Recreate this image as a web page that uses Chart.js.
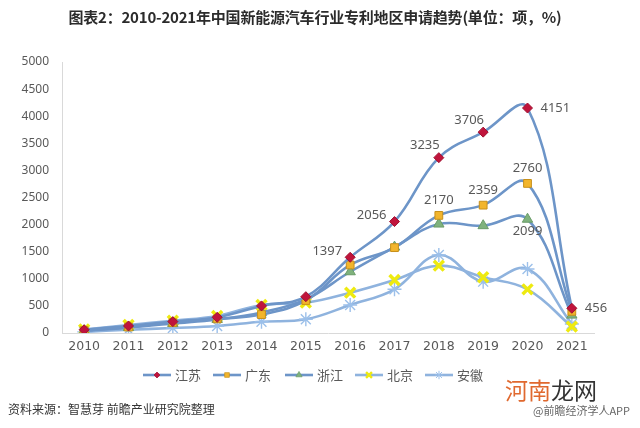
<!DOCTYPE html>
<html>
<head>
<meta charset="utf-8">
<script src="https://cdn.jsdelivr.net/npm/chart.js@4.4.0/dist/chart.umd.min.js"></script>
<style>
  body{margin:0;background:#fff;font-family:"Noto Sans CJK SC",sans-serif;}
  #wrap{position:relative;width:640px;height:428px;overflow:hidden;}
  #chart{position:absolute;left:0;top:0;}
  .title{position:absolute;top:6px;left:0;width:630px;text-align:center;font-weight:bold;font-size:15px;color:#2b2b2b;letter-spacing:-0.2px;}
  .source{position:absolute;left:8px;top:400px;font-size:12px;color:#333;}
  .mark{position:absolute;left:505px;top:377px;font-size:23px;line-height:24px;color:#333;}
  .mark span{color:#e0692f;}
  .app{position:absolute;left:533px;top:402px;font-size:11px;color:#666;}
</style>
</head>
<body>
<div id="wrap">
  <canvas id="chart" width="640" height="428"></canvas>
  <div class="title">图表2：2010-2021年中国新能源汽车行业专利地区申请趋势(单位：项，%)</div>
  <div class="source">资料来源：智慧芽 前瞻产业研究院整理</div>
  <div class="mark"><span>河南</span>龙网</div>
  <div class="app">@前瞻经济学人APP</div>
</div>
<script>
// 数据
var years = ['2010','2011','2012','2013','2014','2015','2016','2017','2018','2019','2020','2021'];
var jiangsu   = [60, 130, 210, 290, 500, 670, 1397, 2056, 3235, 3706, 4151, 456];
var guangdong = [45, 110, 190, 260, 340, 600, 1255, 1575, 2170, 2359, 2760, 400];
var zhejiang  = [40, 100, 175, 250, 380, 620, 1130, 1585, 2010, 1980, 2099, 330];
var beijing   = [65, 148, 227, 313, 517, 560, 744, 978, 1242, 1028, 806, 117];
var anhui     = [20, 60, 92, 130, 208, 253, 517, 806, 1439, 947, 1181, 166];
var yTicks = [0, 500, 1000, 1500, 2000, 2500, 3000, 3500, 4000, 4500, 5000];
var names = ['江苏','广东','浙江','北京','安徽'];

// 数据标签 (序列, 下标, 位置)
var labelSpots = [
  [0, 6, 'left'], [0, 7, 'left'], [0, 8, 'aboveLeft'], [0, 9, 'aboveLeft'], [0, 10, 'right'], [0, 11, 'right'],
  [1, 8, 'above'], [1, 9, 'above'], [1, 10, 'above'],
  [2, 10, 'below']
];

var lineBlue = '#6d95c8';
var lightBlue = '#8fb3de';

function ds(label, data, style, color, border, radius, bw, lc){
  return {
    label: label, data: data,
    borderColor: lc, borderWidth: 2.6, tension: 0.4,
    pointStyle: style, pointRadius: radius, pointHoverRadius: radius,
    pointBackgroundColor: color, pointBorderColor: border, pointBorderWidth: bw
  };
}

var sets = [
  ds(names[0], jiangsu, 'rectRot', '#c0143c', '#a01030', 5, 1, lineBlue),
  ds(names[1], guangdong, 'rect', '#f2b52c', '#c8901a', 5.5, 1, lineBlue),
  ds(names[2], zhejiang, 'triangle', '#7fb27d', '#6a9c68', 6, 1, lineBlue),
  ds(names[3], beijing, 'crossRot', '#f4f000', '#eeea10', 7, 3.5, lightBlue),
  ds(names[4], anhui, 'star', '#9cc0ea', '#9cc0ea', 7, 1.4, lightBlue)
];

// 数据标签插件
var valueLabels = {
  id: 'valueLabels',
  afterDatasetsDraw: function(chart){
    var ctx = chart.ctx;
    ctx.save();
    ctx.font = '13px "Noto Sans", sans-serif';
    ctx.fillStyle = '#595959';
    labelSpots.forEach(function(s){
      var pt = chart.getDatasetMeta(s[0]).data[s[1]];
      var txt = String(chart.data.datasets[s[0]].data[s[1]]);
      var x = pt.x, y = pt.y;
      ctx.textBaseline = 'middle';
      if (s[2] === 'left'){ ctx.textAlign = 'right'; x -= 8; y -= 6; }
      else if (s[2] === 'right'){ ctx.textAlign = 'left'; x += 13; }
      else if (s[2] === 'aboveLeft'){ ctx.textAlign = 'center'; x -= 14; y -= 12; }
      else if (s[2] === 'above'){ ctx.textAlign = 'center'; y -= 15; }
      else if (s[2] === 'below'){ ctx.textAlign = 'center'; y += 12; }
      ctx.fillText(txt, x, y);
    });
    ctx.restore();
  }
};

// 图例插件
var lineLegend = {
  id: 'lineLegend',
  afterDraw: function(chart){
    var ctx = chart.ctx;
    var startX = [143, 213, 285, 355, 425];
    var y = 375;
    ctx.save();
    chart.data.datasets.forEach(function(d, i){
      var x0 = startX[i];
      ctx.strokeStyle = d.borderColor;
      ctx.lineWidth = 2.6;
      ctx.beginPath(); ctx.moveTo(x0, y); ctx.lineTo(x0 + 28, y); ctx.stroke();
      ctx.fillStyle = d.pointBackgroundColor;
      ctx.strokeStyle = d.pointBorderColor;
      ctx.lineWidth = d.pointBorderWidth * 0.7;
      Chart.helpers.drawPoint(ctx, {
        pointStyle: d.pointStyle, radius: d.pointRadius * 0.6, borderWidth: d.pointBorderWidth * 0.7, rotation: 0
      }, x0 + 14, y);
      ctx.font = '13px "Noto Sans CJK SC", sans-serif';
      ctx.fillStyle = '#595959';
      ctx.textAlign = 'left'; ctx.textBaseline = 'middle';
      ctx.fillText(d.label, x0 + 32, y);
    });
    ctx.restore();
  }
};

var canvas = document.getElementById('chart').getContext('2d');
window.lineChart = new Chart(canvas, {
  type: 'line',
  data: { labels: years, datasets: sets },
  options: {
    responsive: false,
    animation: false,
    layout: { padding: { top: 62, left: 8, right: 46, bottom: 65 } },
    plugins: { legend: { display: false }, title: { display: false }, tooltip: { enabled: false } },
    scales: {
      x: {
        offset: true,
        grid: { display: false, drawTicks: false },
        border: { color: '#d9d9d9', width: 1 },
        ticks: { color: '#595959', font: { size: 12.5, family: '"DejaVu Sans", sans-serif' }, padding: 6 },
        afterFit: function(s){ s.height = 30; }
      },
      y: {
        min: 0, max: 5000,
        afterBuildTicks: function(s){ s.ticks = yTicks.map(function(v){ return {value: v}; }); },
        grid: { display: false, drawTicks: false },
        border: { color: '#d9d9d9', width: 1 },
        ticks: {
          color: '#595959', font: { size: 12, family: '"Noto Sans", sans-serif' }, padding: 13,
          callback: function(v){ return String(v); }
        },
        afterFit: function(s){ s.width = 54; }
      }
    }
  },
  plugins: [valueLabels, lineLegend]
});
</script>
</body>
</html>
